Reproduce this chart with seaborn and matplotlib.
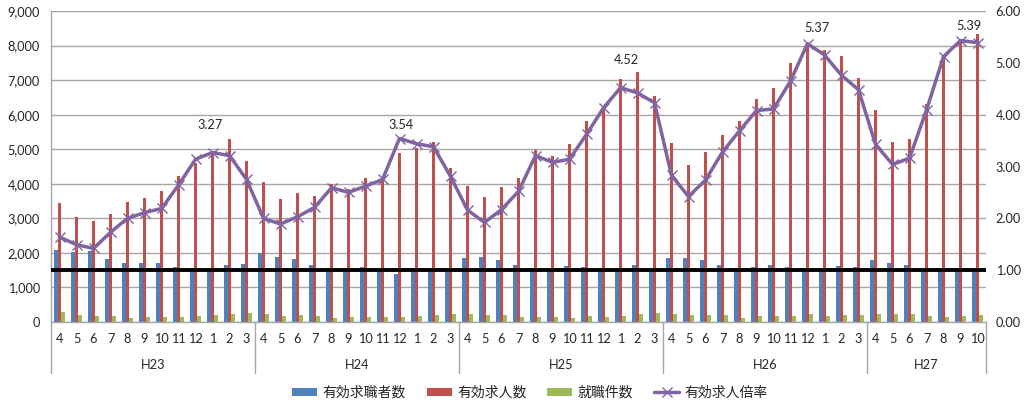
import numpy as np
import pandas as pd
import matplotlib
matplotlib.use("Agg")
import matplotlib.pyplot as plt
import matplotlib.transforms as mtransforms
from matplotlib.patches import Patch
from matplotlib.lines import Line2D
import seaborn as sns

# ---------------- data ----------------
months = [4, 5, 6, 7, 8, 9, 10, 11, 12, 1, 2, 3] * 4 + [4, 5, 6, 7, 8, 9, 10]
years = ["H23", "H24", "H25", "H26", "H27"]
year_counts = [12, 12, 12, 12, 7]

seekers = [2085, 2017, 2046, 1815, 1718, 1699, 1718, 1583, 1466, 1511, 1641, 1670,
           2008, 1892, 1815, 1641, 1544, 1544, 1593, 1515, 1380, 1462, 1544, 1573,
           1853, 1892, 1795, 1651, 1554, 1564, 1622, 1602, 1512, 1564, 1641, 1544,
           1853, 1863, 1795, 1641, 1564, 1583, 1641, 1602, 1505, 1525, 1612, 1583,
           1786, 1718, 1660, 1535, 1499, 1506, 1544]
openings = [3436, 3031, 2915, 3118, 3465, 3591, 3803, 4228, 4604, 4942, 5290, 4653,
            4044, 3552, 3726, 3658, 3996, 3842, 4180, 4122, 4884, 5029, 5203, 4469,
            3938, 3620, 3900, 4180, 4971, 4797, 5154, 5820, 6245, 7046, 7249, 6535,
            5174, 4537, 4913, 5405, 5811, 6458, 6767, 7481, 8080, 7867, 7712, 7075,
            6149, 5203, 5299, 6313, 7674, 8176, 8340]
placements = [290, 203, 183, 164, 125, 145, 145, 145, 164, 193, 222, 251,
              232, 183, 193, 164, 125, 135, 154, 154, 145, 164, 193, 232,
              232, 203, 193, 135, 135, 145, 125, 164, 154, 174, 232, 251,
              232, 203, 193, 193, 125, 164, 164, 164, 222, 183, 212, 203,
              232, 241, 241, 174, 135, 164, 212]
ratio = [1.64, 1.49, 1.42, 1.73, 2.00, 2.11, 2.19, 2.64, 3.14, 3.27, 3.21, 2.75,
         2.00, 1.89, 2.03, 2.21, 2.59, 2.50, 2.62, 2.75, 3.54, 3.44, 3.38, 2.81,
         2.16, 1.92, 2.17, 2.52, 3.21, 3.08, 3.14, 3.62, 4.13, 4.52, 4.42, 4.23,
         2.83, 2.42, 2.74, 3.28, 3.69, 4.08, 4.11, 4.65, 5.37, 5.15, 4.76, 4.48,
         3.43, 3.04, 3.16, 4.09, 5.12, 5.43, 5.39]
labeled_idx = [9, 20, 33, 44, 54]
reference_ratio = 1.0

series_names = ["有効求職者数", "有効求人数", "就職件数"]
line_name = "有効求人倍率"

# ---------------- style ----------------
colors = ["#4F81BD", "#C0504D", "#9BBB59"]
line_color = "#8064A2"
grid_color = "#A6A6A6"
label_offsets = [(-1.5, 20), (1, 9.5), (4, 20), (6.5, 11.5), (-6.5, 12)]  # points

sns.set_style("white")
plt.rcParams["font.family"] = ["Lato", "Noto Sans CJK JP", "DejaVu Sans"]
plt.rcParams["font.size"] = 9.2

n = len(months)
df = pd.DataFrame({
    "idx": list(range(n)) * 3,
    "series": [series_names[0]] * n + [series_names[1]] * n + [series_names[2]] * n,
    "value": seekers + openings + placements,
})

fig = plt.figure(figsize=(10.31, 4.09), dpi=100)
ax = fig.add_axes([51 / 1031, 1 - 322 / 409, 935 / 1031, 311 / 409])

sns.barplot(data=df, x="idx", y="value", hue="series", hue_order=series_names,
            palette=colors, width=0.66, saturation=1, errorbar=None,
            legend=False, ax=ax, zorder=2, linewidth=0, edgecolor="none")

ax.set_xlim(-0.5, n - 0.5)
ax.set_ylim(0, 9000)
ax.set_yticks(np.arange(0, 9001, 1000))
ax.set_yticklabels([f"{v:,}" for v in range(0, 9001, 1000)])
ax.yaxis.grid(True, color=grid_color, lw=1.0, zorder=0)
ax.set_axisbelow(True)
ax.set_xlabel("")
ax.set_ylabel("")
ax.set_xticks([])
ax.tick_params(axis="y", length=0, pad=8)
for s in ["top", "right"]:
    ax.spines[s].set_visible(False)
for s in ["left", "bottom"]:
    ax.spines[s].set_color(grid_color)
    ax.spines[s].set_linewidth(1.0)

# month & year labels
trans = mtransforms.blended_transform_factory(ax.transData, ax.transAxes)
for i, m in enumerate(months):
    ax.text(i, -0.055, str(m), transform=trans, ha="center", va="center")
start = 0
bounds = [-0.5]
for y, c in zip(years, year_counts):
    ax.text(start + (c - 1) / 2, -0.138, y, transform=trans, ha="center", va="center")
    start += c
    bounds.append(start - 0.5)
for b in bounds:
    ax.add_line(Line2D([b, b], [0, -0.164], transform=trans, color=grid_color,
                       lw=1.0, clip_on=False))

# ratio line on secondary axis
ax2 = ax.twinx()
ax2.set_ylim(0, 6)
ax2.axhline(reference_ratio, color="black", lw=2.8, zorder=3)
sns.lineplot(x=list(range(n)), y=ratio, ax=ax2, color=line_color, lw=2.5,
             marker="x", markersize=7, markeredgewidth=1.0,
             markeredgecolor=line_color, zorder=4)
ax2.set_xlim(-0.5, n - 0.5)
ax2.set_yticks(np.arange(0, 6.01, 1))
ax2.set_yticklabels([f"{v:.2f}" for v in np.arange(0, 6.01, 1)])
ax2.tick_params(axis="y", length=0, pad=7)
for s in ["top", "right", "left", "bottom"]:
    ax2.spines[s].set_visible(False)
ax2.set_ylabel("")

for k, i in enumerate(labeled_idx):
    dx, dy = label_offsets[k]
    ax2.annotate(f"{ratio[i]:.2f}", (i, ratio[i]), xytext=(dx, dy),
                 textcoords="offset points", ha="center", va="center")

# legend
handles = [Patch(facecolor=c, edgecolor="none") for c in colors]
handles.append(Line2D([], [], color=line_color, lw=2.5, marker="x",
                      markersize=7, markeredgewidth=1.0))
fig.legend(handles, series_names + [line_name], loc="center",
           bbox_to_anchor=(0.514, 0.042), ncol=4, frameon=False,
           prop={"size": 10}, handlelength=1.8, handleheight=0.5,
           handletextpad=0.4, columnspacing=1.5)

fig.savefig("out.png", dpi=100)
